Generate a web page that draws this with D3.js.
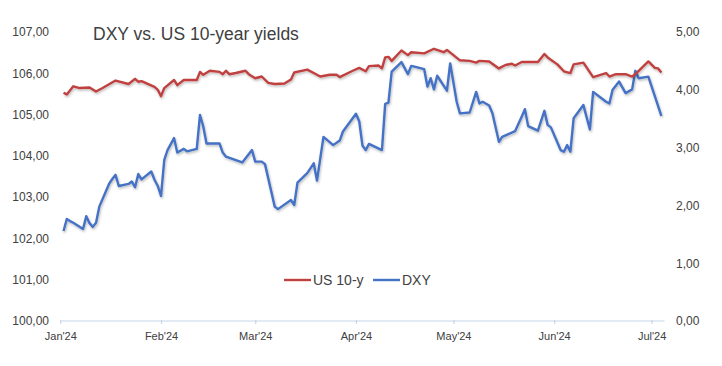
<!DOCTYPE html>
<html>
<head>
<meta charset="utf-8">
<script src="https://cdn.jsdelivr.net/npm/d3@7"></script>
<style>
  html, body { margin: 0; padding: 0; background: #fff; }
  svg { display: block; }
  text { font-family: "Liberation Sans", Arial, sans-serif; fill: #404040; }
</style>
</head>
<body>
<svg id="chart" width="722" height="366"></svg>
<script>
// ---- Data ----
const title = "DXY vs. US 10-year yields";
const seriesNames = ["US 10-y", "DXY"];
const monthTicks = ["2024-01-01","2024-02-01","2024-03-01","2024-04-01","2024-05-01","2024-06-01","2024-07-01"];
const leftTicks = [100,101,102,103,104,105,106,107];
const rightTicks = [0,1,2,3,4,5];

const dxyDates = ["2024-01-02","2024-01-03","2024-01-04","2024-01-05","2024-01-08","2024-01-09","2024-01-10","2024-01-11","2024-01-12","2024-01-13",
"2024-01-16","2024-01-17","2024-01-18","2024-01-19","2024-01-22","2024-01-23","2024-01-24","2024-01-25","2024-01-26","2024-01-29",
"2024-01-30","2024-01-31","2024-02-01","2024-02-02","2024-02-03","2024-02-05","2024-02-06","2024-02-08","2024-02-09","2024-02-12",
"2024-02-13","2024-02-14","2024-02-15","2024-02-19","2024-02-20","2024-02-21","2024-02-26","2024-02-29","2024-03-01","2024-03-03",
"2024-03-04","2024-03-07","2024-03-08","2024-03-12","2024-03-13","2024-03-14","2024-03-17","2024-03-19","2024-03-20","2024-03-22",
"2024-03-25","2024-03-27","2024-03-28","2024-04-01","2024-04-02","2024-04-03","2024-04-04","2024-04-05","2024-04-09","2024-04-10",
"2024-04-11","2024-04-12","2024-04-15","2024-04-17","2024-04-18","2024-04-19","2024-04-22","2024-04-23","2024-04-24","2024-04-25",
"2024-04-26","2024-04-29","2024-04-30","2024-05-02","2024-05-03","2024-05-06","2024-05-08","2024-05-09","2024-05-10","2024-05-12",
"2024-05-13","2024-05-15","2024-05-16","2024-05-20","2024-05-22","2024-05-23","2024-05-24","2024-05-27","2024-05-29","2024-05-30",
"2024-05-31","2024-06-03","2024-06-04","2024-06-05","2024-06-06","2024-06-07","2024-06-10","2024-06-12","2024-06-13","2024-06-17",
"2024-06-18","2024-06-19","2024-06-21","2024-06-23","2024-06-25","2024-06-26","2024-06-27","2024-06-30","2024-07-04"];
const dxyValues = [102.18,102.47,102.42,102.38,102.23,102.54,102.37,102.28,102.38,102.77,
103.32,103.44,103.54,103.27,103.32,103.38,103.24,103.56,103.43,103.62,
103.42,103.27,103.03,103.90,104.14,104.43,104.08,104.17,104.11,104.17,
104.99,104.71,104.30,104.30,104.08,103.98,103.84,104.14,103.86,103.86,
103.80,102.77,102.71,102.93,102.81,103.35,103.58,103.82,103.40,104.46,
104.26,104.37,104.59,105.02,104.84,104.25,104.14,104.29,104.14,105.26,
105.29,106.04,106.27,105.98,106.18,106.16,106.10,105.68,105.88,105.61,
105.94,105.58,106.24,105.31,105.03,105.05,105.55,105.27,105.31,105.22,
105.03,104.34,104.46,104.60,104.95,105.13,104.72,104.61,105.09,104.75,
104.69,104.14,104.10,104.26,104.10,104.91,105.23,104.64,105.55,105.31,
105.27,105.60,105.80,105.52,105.61,106.06,105.88,105.92,104.97];

const us10Dates = ["2024-01-02","2024-01-03","2024-01-05","2024-01-07","2024-01-10","2024-01-12","2024-01-14","2024-01-18","2024-01-22","2024-01-24",
"2024-01-25","2024-01-26","2024-01-30","2024-01-31","2024-02-01","2024-02-02","2024-02-05","2024-02-06","2024-02-08","2024-02-12",
"2024-02-13","2024-02-14","2024-02-16","2024-02-19","2024-02-20","2024-02-21","2024-02-22","2024-02-24","2024-02-27","2024-02-28",
"2024-03-01","2024-03-03","2024-03-05","2024-03-07","2024-03-10","2024-03-12","2024-03-13","2024-03-17","2024-03-19","2024-03-21",
"2024-03-24","2024-03-26","2024-03-27","2024-03-31","2024-04-02","2024-04-04","2024-04-05","2024-04-08","2024-04-09","2024-04-10",
"2024-04-11","2024-04-12","2024-04-15","2024-04-17","2024-04-18","2024-04-22","2024-04-25","2024-04-28","2024-04-29","2024-05-03",
"2024-05-06","2024-05-08","2024-05-09","2024-05-12","2024-05-15","2024-05-17","2024-05-19","2024-05-20","2024-05-22","2024-05-27",
"2024-05-29","2024-05-30","2024-06-02","2024-06-04","2024-06-06","2024-06-07","2024-06-10","2024-06-13","2024-06-17","2024-06-18",
"2024-06-20","2024-06-23","2024-06-25","2024-06-26","2024-06-30","2024-07-02","2024-07-03","2024-07-04"];
const us10Values = [3.95,3.92,4.06,4.03,4.04,3.97,4.03,4.16,4.10,4.19,
4.14,4.15,4.05,4.00,3.89,4.03,4.17,4.08,4.17,4.17,
4.31,4.26,4.33,4.31,4.27,4.33,4.27,4.29,4.33,4.27,
4.20,4.23,4.12,4.10,4.11,4.18,4.30,4.35,4.29,4.23,
4.26,4.26,4.22,4.33,4.38,4.32,4.41,4.42,4.37,4.56,
4.57,4.50,4.68,4.60,4.65,4.63,4.71,4.65,4.69,4.51,
4.50,4.47,4.50,4.49,4.37,4.43,4.45,4.42,4.48,4.48,
4.62,4.56,4.44,4.32,4.29,4.44,4.47,4.22,4.29,4.23,
4.27,4.27,4.23,4.27,4.49,4.38,4.37,4.30];

// ---- Chart ----
const parse = d3.utcParse("%Y-%m-%d");
const svg = d3.select("#chart");

const x = d3.scaleUtc()
  .domain([parse("2024-01-01"), parse("2024-07-05")])
  .range([60.3, 664.6]);
const yL = d3.scaleLinear().domain([100, 107]).range([321, 32]);
const yR = d3.scaleLinear().domain([0, 5]).range([321, 32]);

const defs = svg.append("defs");
const f = defs.append("filter").attr("id", "shadow")
  .attr("x", "-5%").attr("y", "-20%").attr("width", "110%").attr("height", "140%");
f.append("feDropShadow").attr("dx", 0.8).attr("dy", 1.5)
  .attr("stdDeviation", 1).attr("flood-color", "#000").attr("flood-opacity", 0.28);

// Title
svg.append("text").attr("x", 93).attr("y", 40)
  .attr("font-size", 17.5).attr("fill", "#333").text(title);

// Left axis labels
const fmt = d3.format(".2f");
const comma = v => fmt(v).replace(".", ",");
const gL = svg.append("g").attr("transform", "translate(49,0)")
  .call(d3.axisLeft(yL).tickValues(leftTicks).tickSize(0).tickPadding(0).tickFormat(comma));
gL.select(".domain").remove();
gL.selectAll("text").attr("font-size", 12).attr("fill", "#404040")
  .style("font-family", "'Liberation Sans', Arial, sans-serif");

// Right axis labels
const gR = svg.append("g").attr("transform", "translate(676,0)")
  .call(d3.axisRight(yR).tickValues(rightTicks).tickSize(0).tickPadding(0).tickFormat(comma));
gR.select(".domain").remove();
gR.selectAll("text").attr("font-size", 12).attr("fill", "#404040")
  .style("font-family", "'Liberation Sans', Arial, sans-serif");

// Bottom axis
const gX = svg.append("g").attr("transform", "translate(0,321)")
  .call(d3.axisBottom(x).tickValues(monthTicks.map(parse))
    .tickSize(3).tickPadding(8).tickFormat(d3.utcFormat("%b'%y")));
gX.select(".domain").attr("stroke", "#c5d6ea").attr("stroke-width", 1.2)
  .attr("d", `M${x.range()[0]},0H${x.range()[1]}`);
gX.selectAll(".tick line").attr("stroke", "#c5d6ea").attr("stroke-width", 1.2).attr("y1", -1);
gX.selectAll("text").attr("font-size", 11).attr("fill", "#404040")
  .style("font-family", "'Liberation Sans', Arial, sans-serif");

// Lines
const red = "#C0413F", blue = "#4472C4";
const us10 = us10Dates.map((d, i) => ({ date: parse(d), v: us10Values[i] }));
const dxy = dxyDates.map((d, i) => ({ date: parse(d), v: dxyValues[i] }));

svg.append("path").datum(dxy)
  .attr("fill", "none").attr("stroke", blue).attr("stroke-width", 2.4)
  .attr("stroke-linejoin", "round").attr("filter", "url(#shadow)")
  .attr("d", d3.line().x(d => x(d.date)).y(d => yL(d.v)));

svg.append("path").datum(us10)
  .attr("fill", "none").attr("stroke", red).attr("stroke-width", 2.4)
  .attr("stroke-linejoin", "round").attr("filter", "url(#shadow)")
  .attr("d", d3.line().x(d => x(d.date)).y(d => yR(d.v)));

// Legend
const legend = [
  { name: seriesNames[0], color: red, x: 284 },
  { name: seriesNames[1], color: blue, x: 373 }
];
const lg = svg.append("g");
legend.forEach(l => {
  lg.append("line").attr("x1", l.x).attr("x2", l.x + 27).attr("y1", 280).attr("y2", 280)
    .attr("stroke", l.color).attr("stroke-width", 2.4);
  lg.append("text").attr("x", l.x + 29).attr("y", 285)
    .attr("font-size", 14).attr("fill", "#333").text(l.name);
});
</script>
</body>
</html>
